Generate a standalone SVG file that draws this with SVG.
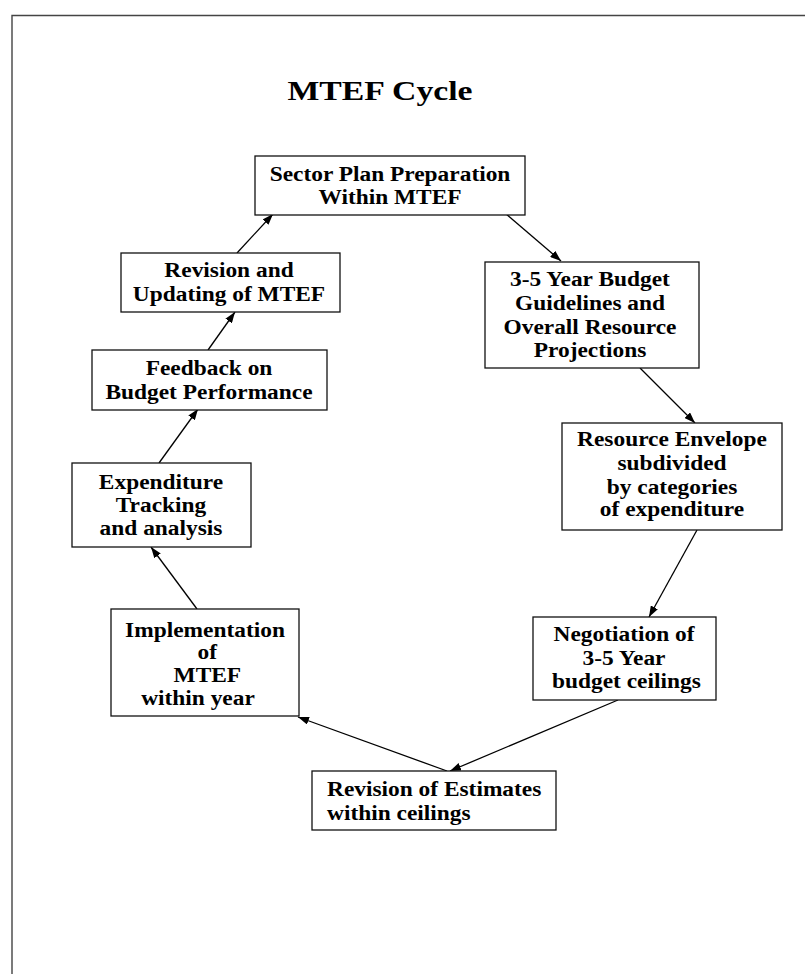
<svg xmlns="http://www.w3.org/2000/svg" width="805" height="974" viewBox="0 0 805 974">
<style>
.frame{fill:none;stroke:#444;stroke-width:1.4}
.box{fill:#fff;stroke:#111;stroke-width:1.3}
.t{font-family:"Liberation Serif","Times New Roman",serif;font-weight:bold;font-size:20px;fill:#000;text-anchor:middle}
.title{font-family:"Liberation Serif","Times New Roman",serif;font-weight:bold;font-size:27px;fill:#000;text-anchor:middle}
.c{stroke:#000;stroke-width:1.3;fill:none;marker-end:url(#ah)}
</style>
<defs>
<marker id="ah" markerUnits="userSpaceOnUse" markerWidth="11" markerHeight="8" refX="11" refY="4" orient="auto">
<path d="M0,0 L11,4 L0,8 z" fill="#000"/>
</marker>
</defs>
<rect width="805" height="974" fill="#fff"/>
<path class="frame" d="M12,974 V15.5 H805"/>
<text class="title" transform="translate(380 0) scale(1.25 1)" y="100">MTEF Cycle</text>
<g id="connectors">
<line class="c" x1="237" y1="253" x2="273" y2="214"/>
<line class="c" x1="505" y1="213" x2="561" y2="261"/>
<line class="c" x1="640" y1="368" x2="695" y2="423"/>
<line class="c" x1="697" y1="530" x2="649" y2="617"/>
<line class="c" x1="618" y1="700" x2="450" y2="771"/>
<line class="c" x1="447" y1="771" x2="298" y2="717"/>
<line class="c" x1="197" y1="609" x2="151" y2="547"/>
<line class="c" x1="159" y1="463" x2="198" y2="409"/>
<line class="c" x1="208" y1="350" x2="235" y2="312"/>
</g>
<g id="n1">
<rect class="box" x="255" y="156" width="270" height="59"/>
<text class="t" transform="translate(390 0) scale(1.17 1)"><tspan x="0" y="181">Sector Plan Preparation</tspan><tspan x="0" y="204">Within MTEF</tspan></text>
</g>
<g id="n2">
<rect class="box" x="485" y="262" width="214" height="106"/>
<text class="t" transform="translate(590 0) scale(1.17 1)"><tspan x="0" y="286">3-5 Year Budget</tspan><tspan x="0" y="310">Guidelines and</tspan><tspan x="0" y="334">Overall Resource</tspan><tspan x="0" y="357">Projections</tspan></text>
</g>
<g id="n3">
<rect class="box" x="562" y="423" width="220" height="107"/>
<text class="t" transform="translate(672 0) scale(1.17 1)"><tspan x="0" y="446">Resource Envelope</tspan><tspan x="0" y="470">subdivided</tspan><tspan x="0" y="494">by categories</tspan><tspan x="0" y="516">of expenditure</tspan></text>
</g>
<g id="n4">
<rect class="box" x="533" y="617" width="183" height="83"/>
<text class="t" transform="translate(624 0) scale(1.17 1)"><tspan x="0" y="641">Negotiation of</tspan><tspan x="0" y="665">3-5 Year</tspan><tspan x="2" y="688">budget ceilings</tspan></text>
</g>
<g id="n5">
<rect class="box" x="312" y="771" width="244" height="59"/>
<text class="t" style="text-anchor:start" transform="translate(327 0) scale(1.17 1)"><tspan x="0" y="796">Revision of Estimates</tspan><tspan x="0" y="820">within ceilings</tspan></text>
</g>
<g id="n6">
<rect class="box" x="111" y="609" width="188" height="107"/>
<text class="t" transform="translate(205 0) scale(1.17 1)"><tspan x="0" y="637">Implementation</tspan><tspan x="2" y="659">of</tspan><tspan x="2" y="682">MTEF</tspan><tspan x="-6" y="705">within year</tspan></text>
</g>
<g id="n7">
<rect class="box" x="72" y="463" width="179" height="84"/>
<text class="t" transform="translate(161 0) scale(1.17 1)"><tspan x="0" y="489">Expenditure</tspan><tspan x="0" y="512">Tracking</tspan><tspan x="0" y="535">and analysis</tspan></text>
</g>
<g id="n8">
<rect class="box" x="92" y="350" width="235" height="60"/>
<text class="t" transform="translate(209 0) scale(1.17 1)"><tspan x="0" y="375">Feedback on</tspan><tspan x="0" y="399">Budget Performance</tspan></text>
</g>
<g id="n9">
<rect class="box" x="121" y="253" width="219" height="59"/>
<text class="t" transform="translate(229 0) scale(1.17 1)"><tspan x="0" y="277">Revision and</tspan><tspan x="0" y="301">Updating of MTEF</tspan></text>
</g>
</svg>
